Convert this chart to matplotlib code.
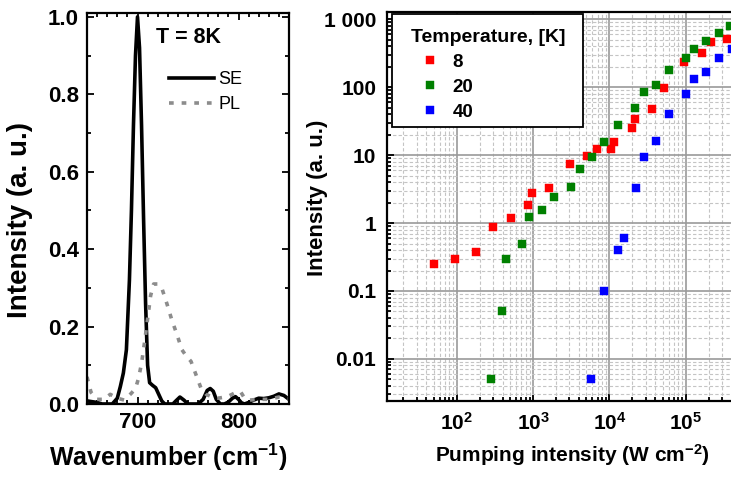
import numpy as np
import matplotlib
matplotlib.use("Agg")
import matplotlib.pyplot as plt
from matplotlib.ticker import MultipleLocator, FixedLocator, FixedFormatter, LogLocator, NullFormatter
from matplotlib.offsetbox import HPacker, VPacker, DrawingArea

plt.rcParams['font.family'] = ['Liberation Sans', 'DejaVu Sans']
plt.rcParams['font.weight'] = 'bold'
plt.rcParams['axes.labelweight'] = 'bold'
plt.rcParams['mathtext.fontset'] = 'custom'
plt.rcParams['mathtext.rm'] = 'Liberation Sans:bold'
plt.rcParams['mathtext.bf'] = 'Liberation Sans:bold'
plt.rcParams['mathtext.it'] = 'Liberation Sans:bold'
plt.rcParams['mathtext.default'] = 'bf'

# ---------------- Left panel data (spectra, T = 8K) ----------------
se_wavenumber = [650, 655, 660, 665, 670, 675, 680, 683, 686, 689, 692, 694, 696, 698, 700,
                 702, 704, 706, 708, 710, 712, 715, 718, 721, 724, 727, 730, 735, 738, 742,
                 746, 750, 755, 760, 765, 769, 772, 775, 778, 782, 786, 790, 794, 797, 800,
                 803, 806, 810, 815, 820, 825, 830, 835, 840, 845, 850]
se_intensity = [0.008, 0.006, 0.004, 0.0, 0.0, 0.0, 0.015, 0.045, 0.08, 0.14, 0.32, 0.5, 0.72, 0.9, 1.0,
                0.92, 0.72, 0.48, 0.26, 0.1, 0.055, 0.048, 0.042, 0.025, 0.008, 0.0, 0.0, 0.0, 0.008, 0.018,
                0.01, 0.0, 0.0, 0.0, 0.012, 0.035, 0.04, 0.033, 0.012, 0.0, 0.0, 0.005, 0.015, 0.019, 0.012,
                0.003, 0.0, 0.004, 0.01, 0.015, 0.014, 0.016, 0.02, 0.026, 0.022, 0.012]

pl_wavenumber = [650, 654, 660, 667, 673, 680, 687, 694, 698, 701, 704, 707, 710, 713, 716, 720,
                 724, 729, 734, 739, 744, 748, 753, 758, 763, 768, 773, 780, 789, 796, 802, 806,
                 810, 820, 830, 840, 850]
pl_intensity = [0.07, 0.03, 0.012, 0.012, 0.025, 0.015, 0.01, 0.028, 0.04, 0.066, 0.105, 0.16, 0.22,
                0.28, 0.31, 0.31, 0.30, 0.26, 0.217, 0.18, 0.14, 0.125, 0.11, 0.075, 0.04, 0.025,
                0.019, 0.015, 0.019, 0.028, 0.032, 0.015, 0.01, 0.012, 0.012, 0.018, 0.015]

# ---------------- Right panel data (intensity vs pumping) ----------------
temperatures = ['8', '20', '40']
pump_8K = [51, 94, 177, 302, 510, 867, 961, 1620, 3030, 5150, 6840, 10500, 11500, 19600, 21700,
           36600, 51700, 96000, 165000, 215000, 346000]
int_8K = [0.25, 0.30, 0.38, 0.885, 1.17, 1.82, 2.77, 3.24, 7.3, 9.6, 12.5, 12.5, 15.8, 25, 34,
          48.4, 96, 233, 319, 458, 520]
pump_20K = [282, 396, 447, 724, 887, 1325, 1885, 3180, 4130, 5880, 8600, 13100, 21900, 28800,
            40900, 60000, 101000, 130000, 187000, 276000, 381000]
int_20K = [0.005, 0.05, 0.30, 0.50, 1.21, 1.57, 2.42, 3.39, 6.3, 9.5, 15.8, 27.8, 48.9, 85,
           108, 177, 273, 370, 474, 637, 795]
pump_40K = [5810, 8590, 13100, 15700, 22200, 28800, 40500, 60000, 101000, 130000, 187000,
            276000, 400000]
int_40K = [0.005, 0.10, 0.40, 0.60, 3.28, 9.3, 16.3, 40.3, 79, 131, 170, 267, 361]

y_ticks = [0.01, 0.1, 1, 10, 100, 1000]
y_ticklabels = ['0.01', '0.1', '1', '10', '100', '1 000']
x_ticks = [1e2, 1e3, 1e4, 1e5]
x_ticklabels = ['$10^{2}$', '$10^{3}$', '$10^{4}$', '$10^{5}$']

W, H = 731, 479
fig = plt.figure(figsize=(W / 100, H / 100), dpi=100)
PX = 72.0 / fig.dpi  # points per pixel

# ---------------- Left panel ----------------
axL = fig.add_axes([87 / W, 1 - 404 / H, (289 - 87) / W, (404 - 13) / H])
axL.plot(se_wavenumber, se_intensity, color='black', lw=2.6, label='SE', solid_joinstyle='round')
axL.plot(pl_wavenumber, pl_intensity, color='#8c8c8c', lw=2.6, linestyle=(0, (1.3, 2.2)),
         dash_capstyle='butt', label='PL')
axL.set_xlim(650, 850)
axL.set_ylim(0, 1.01)
axL.xaxis.set_major_locator(MultipleLocator(100))
axL.xaxis.set_minor_locator(MultipleLocator(10))
axL.yaxis.set_major_locator(MultipleLocator(0.2))
axL.yaxis.set_minor_locator(MultipleLocator(0.1))
axL.tick_params(which='both', direction='in', top=True, right=True, width=1.3)
axL.tick_params(which='major', length=5, labelsize=16, pad=6)
axL.tick_params(which='minor', length=3)
for s in axL.spines.values():
    s.set_linewidth(1.6)
axL.set_xticks([700, 800])
axL.set_xticklabels(['700', '800'])
axL.set_ylabel('Intensity (a. u.)', fontsize=20, fontweight='bold')
axL.yaxis.set_label_coords(-0.265, 0.47)
axL.set_xlabel('Wavenumber (cm$^{-1}$)', fontsize=18, fontweight='bold')
axL.xaxis.set_label_coords(0.40, -0.095)
axL.xaxis.label.set_va('top')
axL.text(0.34, 0.965, 'T = 8K', transform=axL.transAxes, fontsize=15.5, fontweight='bold',
         ha='left', va='top')
legL = axL.legend(loc='upper left', bbox_to_anchor=(0.37, 0.87), frameon=False,
                  prop={'size': 13, 'weight': 'normal'},
                  handlelength=2.5, handletextpad=0.25, labelspacing=0.45, borderaxespad=0)

# ---------------- Right panel ----------------
x_left, x_right_px = 387.3, 762.0
axR = fig.add_axes([x_left / W, 1 - 401 / H, (x_right_px - x_left) / W, (401 - 11.7) / H])
axR.set_xscale('log')
axR.set_yscale('log')
axR.set_xlim(10 ** 1.09, 1e6)
axR.set_ylim(10 ** -2.62, 10 ** 3.113)
axR.set_axisbelow(True)
axR.grid(which='minor', color='#c4c4c4', lw=0.8, linestyle=(0, (3, 2)))
axR.grid(which='major', color='#9a9a9a', lw=1.2, linestyle='-')

colors = ['#ff0000', '#008000', '#0000ff']
for xs, ys, c, lab in zip([pump_8K, pump_20K, pump_40K], [int_8K, int_20K, int_40K], colors, temperatures):
    axR.plot(xs, ys, 's', color=c, ms=6.2, mec=c, mew=0.3, label=lab, clip_on=True)

axR.yaxis.set_major_locator(FixedLocator(y_ticks))
axR.yaxis.set_major_formatter(FixedFormatter(y_ticklabels))
axR.yaxis.set_minor_locator(LogLocator(base=10, subs=np.arange(2, 10), numticks=20))
axR.yaxis.set_minor_formatter(NullFormatter())
axR.xaxis.set_major_locator(FixedLocator(x_ticks))
axR.xaxis.set_major_formatter(FixedFormatter(x_ticklabels))
axR.xaxis.set_minor_locator(LogLocator(base=10, subs=np.arange(2, 10), numticks=20))
axR.xaxis.set_minor_formatter(NullFormatter())
axR.tick_params(which='both', direction='in', top=False, right=False, width=1.3)
axR.tick_params(which='major', length=5, labelsize=15, pad=8)
axR.tick_params(which='minor', length=3)
for s in axR.spines.values():
    s.set_linewidth(1.6)
axR.set_ylabel('Intensity (a. u.)', fontsize=16, fontweight='bold')
axR.yaxis.set_label_coords(-0.158, 0.523)
axR.set_xlabel('Pumping intensity (W cm$^{-2}$)', fontsize=15, fontweight='bold')
axR.xaxis.set_label_coords(0.494, -0.105)
axR.xaxis.label.set_va('top')

legR = axR.legend(loc='upper left', bbox_to_anchor=(0.0117, 0.993), title='Temperature, [K]',
                  prop={'size': 13.5, 'weight': 'bold'}, title_fontsize=14, fancybox=False,
                  framealpha=1, edgecolor='black',
                  borderpad=0.3, handletextpad=0.2, labelspacing=0.42, handlelength=2.0,
                  markerscale=1.0, borderaxespad=0, alignment='left')
legR.get_frame().set_linewidth(1.3)
legR.get_title().set_fontweight('bold')

# reshape the legend box padding to match the reference (extra space on top/left, fixed width)
old_box = legR._legend_box
top_space = DrawingArea(1, 9.0 * PX)
left_space = DrawingArea(14.0 * PX, 1)
right_space = DrawingArea(0, 1)
title_col = VPacker(pad=0, sep=0, align='left', children=[top_space, legR._legend_title_box])
content = VPacker(pad=0, sep=old_box.sep, align='left',
                  children=[title_col, legR._legend_handle_box])
row = HPacker(pad=0, sep=0, align='top', children=[left_space, content, right_space])
legR._legend_box = VPacker(pad=old_box.pad, sep=0, align='left', children=[row])
legR._legend_box.set_figure(fig)
legR._legend_box.axes = axR
legR._legend_box.set_offset(legR._findoffset)

fig.canvas.draw()
cur_w = legR.get_window_extent().width
right_space.width = max(0.0, (191.0 - cur_w) * PX)

fig.savefig('out.png', dpi=100)
